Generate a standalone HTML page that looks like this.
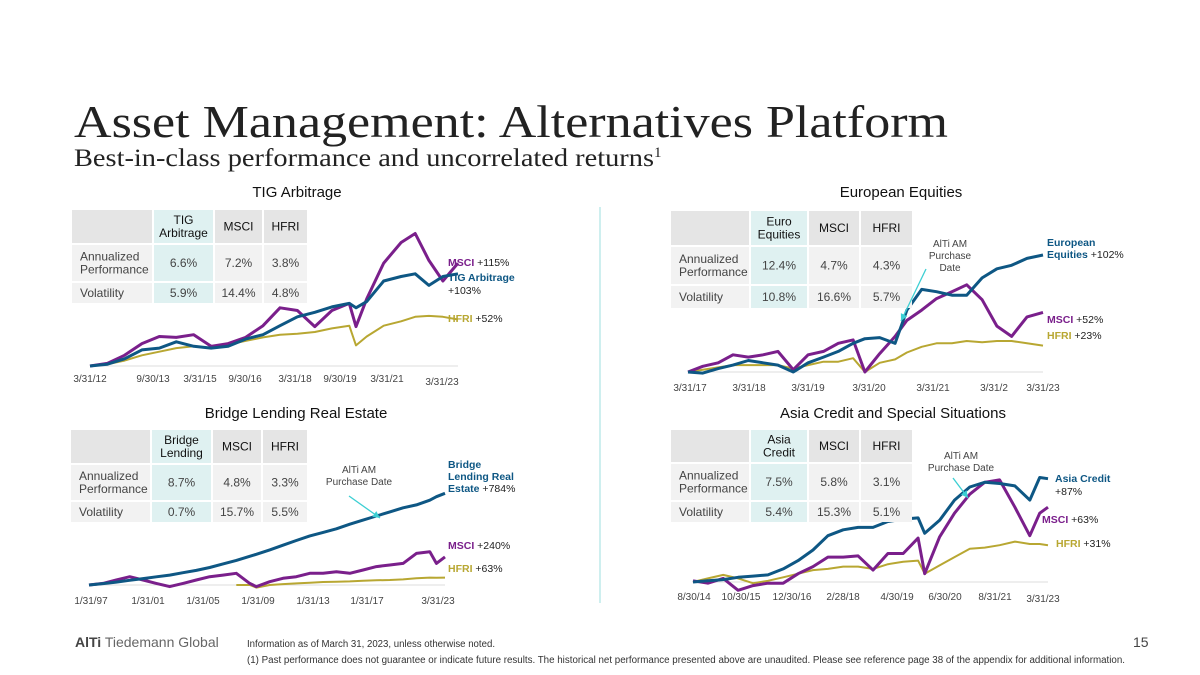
<!DOCTYPE html>
<html><head><meta charset="utf-8"><style>
html,body{margin:0;padding:0;background:#fff;}
svg{display:block;font-family:"Liberation Sans",Arial,sans-serif;}
</style></head><body>
<svg id="s" width="1200" height="675" viewBox="0 0 1200 675" xmlns="http://www.w3.org/2000/svg">
<text x="74" y="137" font-family="Liberation Serif,serif" font-size="46" fill="#222" textLength="874" lengthAdjust="spacingAndGlyphs">Asset Management: Alternatives Platform</text>
<text x="74" y="166" font-family="Liberation Serif,serif" font-size="25" fill="#222"><tspan textLength="580" lengthAdjust="spacingAndGlyphs">Best-in-class performance and uncorrelated returns</tspan><tspan font-size="15" dy="-9">1</tspan></text>
<line x1="600" y1="207" x2="600" y2="603" stroke="#bdeaea" stroke-width="1.5"/>
<g id="charts"></g>
<text x="75" y="647" font-size="14" fill="#666"><tspan font-weight="bold" fill="#444">AlTi</tspan> Tiedemann Global</text>
<text x="247" y="647" font-size="10" fill="#333" textLength="248" lengthAdjust="spacingAndGlyphs">Information as of March 31, 2023, unless otherwise noted.</text>
<text x="1133" y="647" font-size="14" fill="#444">15</text>
<text x="247" y="663" font-size="10" fill="#333" textLength="878" lengthAdjust="spacingAndGlyphs">(1)   Past performance does not guarantee or indicate future results. The historical net performance presented above are unaudited. Please see reference page 38 of the appendix for additional information.</text>
</svg>
<script>
// ---- Chart 1: TIG Arbitrage ----
const c1Dates=[2012.25,2012.77,2013.28,2013.80,2014.32,2014.83,2015.35,2015.87,2016.38,2016.9,2017.42,2017.93,2018.45,2018.97,2019.48,2020.0,2020.2,2020.52,2021.03,2021.55,2021.97,2022.38,2022.8,2023.25];
const c1Msci=[0,3,12,25,33,32,35,22,25,32,45,65,62,44,62,70,44,75,115,138,148,118,95,115];
const c1Fund=[0,2,8,18,20,27,22,20,22,30,35,45,55,60,66,70,65,72,95,100,103,90,100,103];
const c1Hfri=[0,2,6,12,16,20,22,20,24,28,32,35,36,38,42,45,23,33,45,50,55,56,55,52];
// ---- Chart 2: European Equities ----
const c2Dates=[2017.25,2017.50,2017.76,2018.01,2018.27,2018.52,2018.77,2019.03,2019.28,2019.54,2019.79,2020.04,2020.24,2020.49,2020.75,2020.95,2021.20,2021.45,2021.71,2021.96,2022.22,2022.47,2022.72,2022.98,2023.25];
const c2Fund=[0,-1,3,6,10,8,6,0,8,13,18,25,29,30,25,54,72,70,67,67,82,90,93,99,102];
const c2Msci=[0,5,8,15,13,15,18,2,15,18,25,28,0,16,31,45,54,64,70,76,63,40,31,48,52];
const c2Hfri=[0,2,4,6,6,6,6,3,6,9,9,12,0,8,11,17,22,25,25,27,26,27,27,25,23];
// ---- Chart 3: Bridge Lending ----
const c3Dates=[1997.08,1998.11,1999.09,2000.07,2001.05,2002.03,2003.01,2003.99,2004.97,2005.95,2006.93,2007.91,2008.89,2009.38,2010.36,2011.34,2012.32,2013.31,2014.29,2015.27,2016.25,2017.23,2018.21,2019.19,2020.17,2021.15,2022.13,2022.62,2023.25];
const c3Fund=[0,12,25,40,55,70,85,105,125,150,180,210,245,262,300,340,380,420,450,480,520,555,590,625,660,685,725,755,784];
const c3Msci=[0,14,43,71,43,14,-14,14,43,71,85,100,14,-14,28,57,71,100,100,114,100,128,157,171,185,270,285,185,240];
const c3Hfri=[null,null,null,null,null,null,null,null,null,null,null,0,0,-22,0,8,14,20,26,28,31,37,40,43,48,57,63,62,63];
// ---- Chart 4: Asia Credit ----
const c4Dates=[2014.67,2015.03,2015.40,2015.76,2016.12,2016.48,2016.85,2017.21,2017.57,2017.93,2018.30,2018.66,2019.02,2019.38,2019.75,2020.11,2020.27,2020.63,2020.99,2021.36,2021.72,2022.08,2022.45,2022.81,2023.05,2023.25];
const c4Fund=[0,1,2,4,5,6,11,18,27,39,44,46,46,51,53,54,41,52,69,80,84,83,81,69,88,87];
const c4Msci=[1,-1,3,-7,-3,-1,-1,7,13,21,21,22,10,24,24,37,7,38,58,74,84,86,63,39,58,63];
const c4Hfri=[0,3,6,3,-1,1,4,7,10,11,13,13,11,15,17,18,7,14,21,28,29,31,34,32,32,31];

const PUR='#7a1f8b',BLU='#0e5784',GLD='#b8a732',TXT='#444',CY='#3ccfd3';
const NS='http://www.w3.org/2000/svg';
const root=document.getElementById('charts');
function mk(tag,attrs,parent){const e=document.createElementNS(NS,tag);for(const k in attrs)e.setAttribute(k,attrs[k]);(parent||root).appendChild(e);return e;}
function txt(x,y,s,size,fill,anchor,weight,parent){const t=mk('text',{x:x,y:y,'font-size':size,fill:fill,'text-anchor':anchor||'start'},parent);if(weight)t.setAttribute('font-weight',weight);t.textContent=s;return t;}

function chart(cfg){
  const g=mk('g',{});
  
  
  const t=txt(cfg.titleX,cfg.titleY,cfg.title,15,'#111','middle',null,g);
  
  
  const xs=d=>cfg.x0+(d-cfg.d0)/(cfg.d1-cfg.d0)*(cfg.x1-cfg.x0);
  const ys=v=>cfg.y0-v*cfg.k;
  const base=mk('line',{x1:cfg.x0,x2:cfg.x1,y1:cfg.y0,y2:cfg.y0,stroke:'#ddd','stroke-width':1},g);
  
  
  cfg.series.forEach(s=>{
    let d='';let started=false;
    s.vals.forEach((v,i)=>{if(v===null)return;d+=(started?'L':'M')+xs(cfg.dates[i]).toFixed(1)+','+ys(v).toFixed(1);started=true;});
    const p=mk('path',{d:d,fill:'none',stroke:s.color,'stroke-width':s.w||3,'stroke-linejoin':'round'},g);
    
    
  });
  cfg.ticks.forEach(tk=>{const e=txt(tk[0],tk[1],tk[2],10,TXT,'middle',null,g);
    
    });
  const T=cfg.table;
  const cols=T.cols, rows=T.rows;
  for(let r=0;r<3;r++)for(let c=0;c<4;c++){
    const fill=r===0?(c===1?'#dff1f1':'#e5e5e5'):(c===1?'#dff1f1':'#f2f2f2');
    const rc=mk('rect',{x:cols[c],y:rows[r],width:cols[c+1]-cols[c]-2,height:rows[r+1]-rows[r]-2,fill:fill},g);
    
    
  }
  T.cells.forEach((row,r)=>row.forEach((cell,c)=>{
    if(!cell)return;
    const lines=cell.split('|');const cx=c===0?cols[0]+8:(cols[c]+cols[c+1]-2)/2;
    const cy=(rows[r]+rows[r+1]-2)/2;
    lines.forEach((ln,i)=>{const e=txt(cx,cy+4+(i-(lines.length-1)/2)*13,ln,12,r===0?'#111':TXT,c===0?'start':'middle',null,g);
      
      });
  }));
  cfg.labels.forEach(l=>{const e=mk('text',{x:l[0],y:l[1],'font-size':10.5},g);
    
    
    e.innerHTML=l[2];});
  if(cfg.arrow){const a=cfg.arrow;
    const ln=mk('line',{x1:a[0],y1:a[1],x2:a[2],y2:a[3],stroke:CY,'stroke-width':1.3},g);
    
    
    const ang=Math.atan2(a[3]-a[1],a[2]-a[0]);const L=7,W=3.5;
    const bx=a[2]-L*Math.cos(ang),by=a[3]-L*Math.sin(ang);
    const hd=mk('polygon',{points:`${a[2]},${a[3]} ${bx-W*Math.sin(ang)},${by+W*Math.cos(ang)} ${bx+W*Math.sin(ang)},${by-W*Math.cos(ang)}`,fill:CY},g);
    
    
    cfg.annot.forEach((s,i)=>{const e=txt(cfg.annotX,cfg.annotY+i*12,s,10,TXT,'middle',null,g);
      
      });
  }
}
const B=(c,s)=>`<tspan fill="${c}" font-weight="bold">${s}</tspan>`;
const K=s=>`<tspan fill="#222"> ${s}</tspan>`;

chart({name:'tig-arbitrage-chart',title:'TIG Arbitrage',titleX:297,titleY:197,x0:90,x1:458,d0:2012.25,d1:2023.25,y0:366,k:0.895,dates:c1Dates,
 series:[{name:'hfri-line',vals:c1Hfri,color:GLD,w:2},{name:'msci-line',vals:c1Msci,color:PUR},{name:'tig-line',vals:c1Fund,color:BLU}],
 ticks:[[90,382,'3/31/12'],[153,382,'9/30/13'],[200,382,'3/31/15'],[245,382,'9/30/16'],[295,382,'3/31/18'],[340,382,'9/30/19'],[387,382,'3/31/21'],[442,385,'3/31/23']],
 table:{cols:[72,154,215,264,309],rows:[210,245,283,305],cells:[['','TIG|Arbitrage','MSCI','HFRI'],['Annualized|Performance','6.6%','7.2%','3.8%'],['Volatility','5.9%','14.4%','4.8%']]},
 labels:[[448,266,B(PUR,'MSCI')+K('+115%')],[448,281,B(BLU,'TIG Arbitrage')],[448,294,K('+103%')],[448,322,B(GLD,'HFRI')+K('+52%')]]});

chart({name:'european-equities-chart',title:'European Equities',titleX:901,titleY:197,x0:688,x1:1043,d0:2017.25,d1:2023.25,y0:372,k:1.147,dates:c2Dates,
 series:[{name:'hfri-line',vals:c2Hfri,color:GLD,w:2},{name:'msci-line',vals:c2Msci,color:PUR},{name:'euro-equities-line',vals:c2Fund,color:BLU}],
 ticks:[[690,391,'3/31/17'],[749,391,'3/31/18'],[808,391,'3/31/19'],[869,391,'3/31/20'],[933,391,'3/31/21'],[994,391,'3/31/2'],[1043,391,'3/31/23']],
 table:{cols:[671,751,809,861,914],rows:[211,247,286,310],cells:[['','Euro|Equities','MSCI','HFRI'],['Annualized|Performance','12.4%','4.7%','4.3%'],['Volatility','10.8%','16.6%','5.7%']]},
 labels:[[1047,246,B(BLU,'European')],[1047,258,B(BLU,'Equities')+K('+102%')],[1047,323,B(PUR,'MSCI')+K('+52%')],[1047,339,B(GLD,'HFRI')+K('+23%')]],
 arrow:[926,269,901,321],annot:['AlTi AM','Purchase','Date'],annotX:950,annotY:247});

chart({name:'bridge-lending-chart',title:'Bridge Lending Real Estate',titleX:296,titleY:418,x0:89,x1:445,d0:1997.08,d1:2023.25,y0:585,k:0.117,dates:c3Dates,
 series:[{name:'hfri-line',vals:c3Hfri,color:GLD,w:2},{name:'msci-line',vals:c3Msci,color:PUR},{name:'bridge-lending-line',vals:c3Fund,color:BLU}],
 ticks:[[91,604,'1/31/97'],[148,604,'1/31/01'],[203,604,'1/31/05'],[258,604,'1/31/09'],[313,604,'1/31/13'],[367,604,'1/31/17'],[438,604,'3/31/23']],
 table:{cols:[71,152,213,263,309],rows:[430,465,502,524],cells:[['','Bridge|Lending','MSCI','HFRI'],['Annualized|Performance','8.7%','4.8%','3.3%'],['Volatility','0.7%','15.7%','5.5%']]},
 labels:[[448,468,B(BLU,'Bridge')],[448,480,B(BLU,'Lending Real')],[448,492,B(BLU,'Estate')+K('+784%')],[448,549,B(PUR,'MSCI')+K('+240%')],[448,572,B(GLD,'HFRI')+K('+63%')]],
 arrow:[349,496,380,518],annot:['AlTi AM','Purchase Date'],annotX:359,annotY:473});

chart({name:'asia-credit-chart',title:'Asia Credit and Special Situations',titleX:893,titleY:418,x0:693,x1:1048,d0:2014.67,d1:2023.25,y0:582,k:1.187,dates:c4Dates,
 series:[{name:'hfri-line',vals:c4Hfri,color:GLD,w:2},{name:'msci-line',vals:c4Msci,color:PUR},{name:'asia-credit-line',vals:c4Fund,color:BLU}],
 ticks:[[694,600,'8/30/14'],[741,600,'10/30/15'],[792,600,'12/30/16'],[843,600,'2/28/18'],[897,600,'4/30/19'],[945,600,'6/30/20'],[995,600,'8/31/21'],[1043,602,'3/31/23']],
 table:{cols:[671,751,809,861,914],rows:[430,464,502,524],cells:[['','Asia|Credit','MSCI','HFRI'],['Annualized|Performance','7.5%','5.8%','3.1%'],['Volatility','5.4%','15.3%','5.1%']]},
 labels:[[1055,482,B(BLU,'Asia Credit')],[1055,495,'<tspan fill="#222">+87%</tspan>'],[1042,523,B(PUR,'MSCI')+K('+63%')],[1056,547,B(GLD,'HFRI')+K('+31%')]],
 arrow:[953,478,968,498],annot:['AlTi AM','Purchase Date'],annotX:961,annotY:459});
</script>
</body></html>
